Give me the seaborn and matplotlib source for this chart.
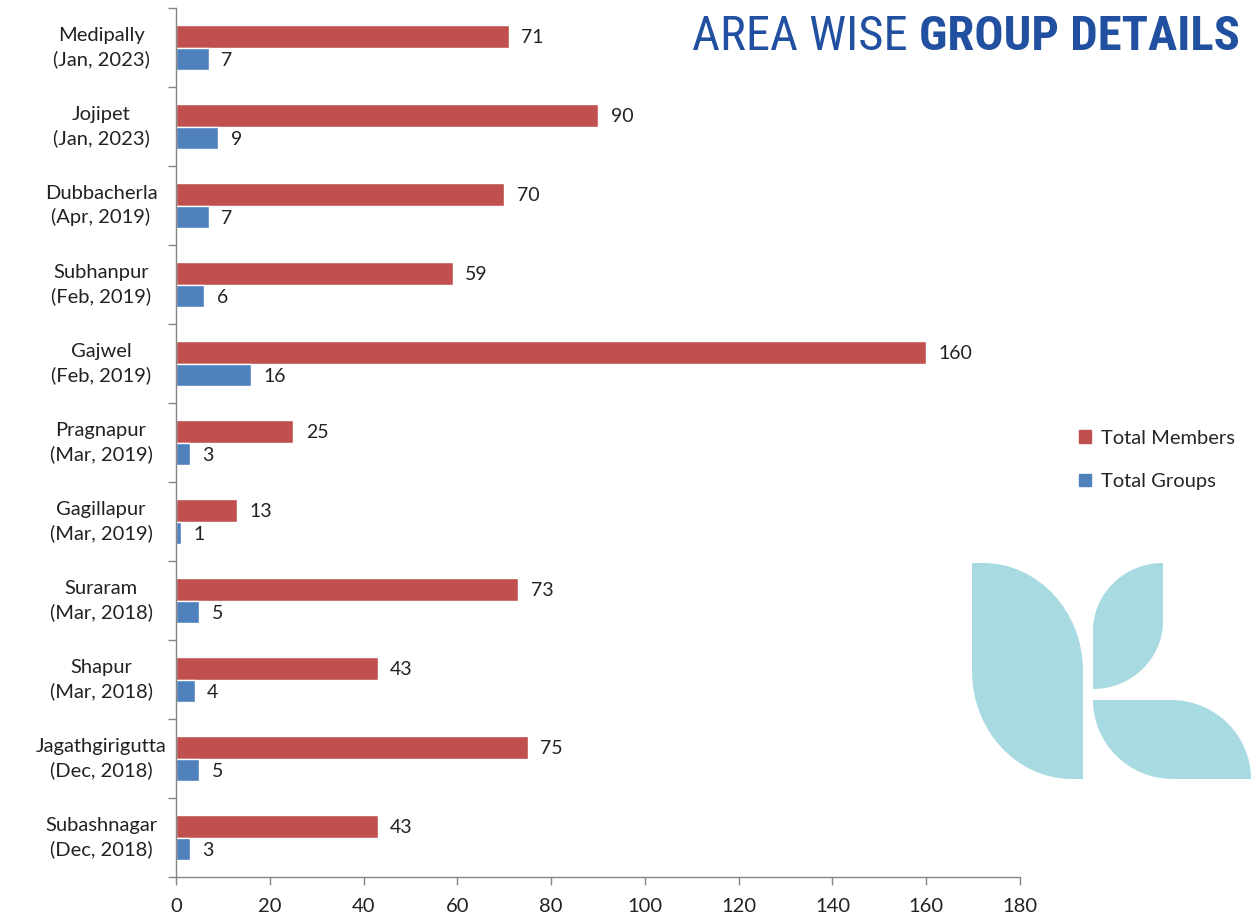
import numpy as np
import pandas as pd
import matplotlib
matplotlib.use("Agg")
import matplotlib.pyplot as plt
import seaborn as sns
from matplotlib.path import Path
from matplotlib.patches import PathPatch, Patch
from matplotlib import font_manager

# ------------------------------
# Data
# ------------------------------
areas = ["Medipally", "Jojipet", "Dubbacherla", "Subhanpur", "Gajwel", "Pragnapur",
         "Gagillapur", "Suraram", "Shapur", "Jagathgirigutta", "Subashnagar"]
started = ["Jan, 2023", "Jan, 2023", "Apr, 2019", "Feb, 2019", "Feb, 2019", "Mar, 2019",
           "Mar, 2019", "Mar, 2018", "Mar, 2018", "Dec, 2018", "Dec, 2018"]
total_members = [71, 90, 70, 59, 160, 25, 13, 73, 43, 75, 43]
total_groups = [7, 9, 7, 6, 16, 3, 1, 5, 4, 5, 3]

labels = [f"{a}\n({s})" for a, s in zip(areas, started)]
series = ["Total Members", "Total Groups"]
colors = {"Total Members": "#C0504D", "Total Groups": "#4F81BD"}

df = pd.DataFrame({"area": labels, "Total Members": total_members, "Total Groups": total_groups})
long_df = df.melt(id_vars="area", var_name="series", value_name="value")

# ------------------------------
# Style
# ------------------------------
sns.set_theme(style="white")
installed = {f.name for f in font_manager.fontManager.ttflist}
body_font = "Lato" if "Lato" in installed else "DejaVu Sans"
plt.rcParams["font.family"] = [body_font, "DejaVu Sans"]
title_font = next((f for f in ["Liberation Sans Narrow", "DejaVu Sans Condensed", "Roboto Condensed"]
                   if f in installed), body_font)

W, H = 1251, 923
fig = plt.figure(figsize=(W / 100, H / 100), dpi=100)
ax = fig.add_axes([176 / W, 1 - 877 / H, (1020 - 176) / W, (877 - 8) / H])
ax.set_facecolor("none")

sns.barplot(data=long_df, y="area", x="value", hue="series", hue_order=series,
            palette=colors, order=labels, width=0.56, orient="h", ax=ax,
            saturation=1, legend=False)

for cont in ax.containers:
    for t in ax.bar_label(cont, padding=9, fontsize=14, color="#222222"):
        t.set_verticalalignment("center_baseline")

ax.set_xlim(0, 180)
ax.set_ylim(len(labels) - 0.5, -0.5)
ax.set_xticks(np.arange(0, 181, 20))
ax.set_xlabel("")
ax.set_ylabel("")
ax.tick_params(axis="x", labelsize=14.5, colors="#222222", length=6, width=1,
               color="#868686", direction="out", pad=9, bottom=True)
ax.tick_params(axis="y", which="major", labelsize=14.5, colors="#222222", length=0, pad=54)
for t in ax.get_yticklabels():
    t.set_horizontalalignment("center")
    t.set_verticalalignment("center")
    t.set_linespacing(1.45)
ax.set_yticks(np.arange(-0.5, len(labels), 1.0), minor=True)
ax.tick_params(axis="y", which="minor", length=6, width=1, color="#868686", left=True, direction="out")

for side in ["top", "right"]:
    ax.spines[side].set_visible(False)
for side in ["left", "bottom"]:
    ax.spines[side].set_color("#868686")
    ax.spines[side].set_linewidth(1)

handles = [Patch(color=colors[s]) for s in series]
fig.legend(handles, series, loc="center left", bbox_to_anchor=(1061 / W, 1 - 460 / H),
           frameon=False, fontsize=14.5, handlelength=0.6, handleheight=0.6,
           handletextpad=0.5, labelspacing=1.3)

# Title
fig.text(908 / W, 1 - 37 / H, "AREA WISE", ha="right", va="center", fontsize=35,
         color="#2150A0", family=title_font, fontweight="normal")
fig.text(1240 / W, 1 - 37 / H, "GROUP DETAILS", ha="right", va="center", fontsize=35,
         color="#2150A0", family=title_font, fontweight="bold")

# Decorative leaf logo (pixel coordinates)
deco = fig.add_axes([0, 0, 1, 1], zorder=-1)
deco.set_xlim(0, W)
deco.set_ylim(H, 0)
deco.axis("off")
K = 0.5523


def leaf(x0, y0, x1, y1, rx, ry, corners):
    """Rectangle with two opposite corners rounded by quarter ellipses."""
    if corners == "tr-bl":
        verts = [(x0, y0), (x1 - rx, y0),
                 (x1 - rx + K * rx, y0), (x1, y0 + ry - K * ry), (x1, y0 + ry),
                 (x1, y1), (x0 + rx, y1),
                 (x0 + rx - K * rx, y1), (x0, y1 - ry + K * ry), (x0, y1 - ry),
                 (x0, y0)]
    else:  # tl-br
        verts = [(x1, y0), (x1, y1 - ry),
                 (x1, y1 - ry + K * ry), (x1 - rx + K * rx, y1), (x1 - rx, y1),
                 (x0, y1), (x0, y0 + ry),
                 (x0, y0 + ry - K * ry), (x0 + rx - K * rx, y0), (x0 + rx, y0),
                 (x1, y0)]
    codes = [Path.MOVETO, Path.LINETO, Path.CURVE4, Path.CURVE4, Path.CURVE4,
             Path.LINETO, Path.LINETO, Path.CURVE4, Path.CURVE4, Path.CURVE4, Path.CLOSEPOLY]
    deco.add_patch(PathPatch(Path(verts, codes), facecolor="#A8DAE2", edgecolor="none"))


leaf(972, 563, 1083, 779, 100, 108, "tr-bl")
leaf(1093, 563, 1163, 689, 70, 68, "tl-br")
leaf(1093, 700, 1251, 779, 80, 79, "tr-bl")

fig.savefig("out.png", dpi=100)
